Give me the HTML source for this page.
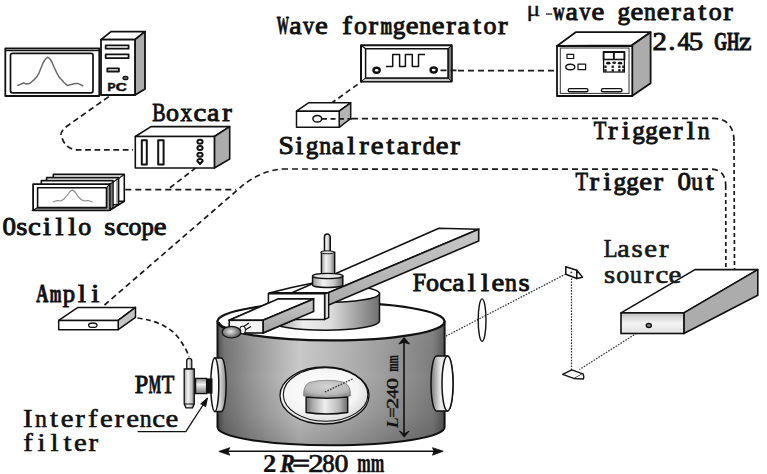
<!DOCTYPE html>
<html><head><meta charset="utf-8"><style>
html,body{margin:0;padding:0;background:#fff;width:767px;height:474px;overflow:hidden}
svg{display:block}
.s{fill:none;stroke:#111;stroke-linejoin:round}
.w{fill:#fff;stroke:#111;stroke-linejoin:round}
.g{fill:#acacac;stroke:#111;stroke-linejoin:round}
.d{fill:none;stroke:#1a1a1a}
.b{fill:none;stroke:#333;stroke-width:1.25;stroke-dasharray:1.6 1.3}
</style></head><body>
<svg width="767" height="474" viewBox="0 0 767 474" stroke-width="1.6">
<defs>
<linearGradient id="body" x1="0" x2="1" y1="0" y2="0">
<stop offset="0" stop-color="#4a4a4a"/><stop offset="0.03" stop-color="#747474"/><stop offset="0.15" stop-color="#969696"/><stop offset="0.36" stop-color="#cacaca"/><stop offset="0.55" stop-color="#b6b6b6"/><stop offset="0.8" stop-color="#949494"/><stop offset="0.95" stop-color="#7e7e7e"/><stop offset="1" stop-color="#555"/>
</linearGradient>
<linearGradient id="cyl" x1="0" x2="1" y1="0" y2="0">
<stop offset="0" stop-color="#8a8a8a"/><stop offset="0.3" stop-color="#eeeeee"/><stop offset="0.55" stop-color="#dddddd"/><stop offset="1" stop-color="#707070"/>
</linearGradient>
<linearGradient id="cyl2" x1="0" x2="1" y1="0" y2="0">
<stop offset="0" stop-color="#9a9a9a"/><stop offset="0.35" stop-color="#f4f4f4"/><stop offset="0.7" stop-color="#c8c8c8"/><stop offset="1" stop-color="#6a6a6a"/>
</linearGradient>
<linearGradient id="barside" x1="0" x2="0" y1="0" y2="1">
<stop offset="0" stop-color="#c8c8c8"/><stop offset="1" stop-color="#a0a0a0"/>
</linearGradient>
<linearGradient id="laserfront" x1="0" x2="0" y1="0" y2="1">
<stop offset="0" stop-color="#c0c0c0"/><stop offset="0.5" stop-color="#f4f4f4"/><stop offset="1" stop-color="#e0e0e0"/>
</linearGradient>
<radialGradient id="ball" cx="0.45" cy="0.45" r="0.6">
<stop offset="0" stop-color="#e8e8e8"/><stop offset="0.5" stop-color="#999"/><stop offset="1" stop-color="#444"/>
</radialGradient>
<linearGradient id="vcyl" x1="0" x2="0" y1="0" y2="1">
<stop offset="0" stop-color="#888"/><stop offset="0.4" stop-color="#f2f2f2"/><stop offset="1" stop-color="#777"/>
</linearGradient>
<linearGradient id="puckband" x1="0" x2="1" y1="0" y2="0">
<stop offset="0" stop-color="#6a6a6a"/><stop offset="0.15" stop-color="#a8a8a8"/><stop offset="0.45" stop-color="#eeeeee"/><stop offset="0.8" stop-color="#b8b8b8"/><stop offset="1" stop-color="#6a6a6a"/>
</linearGradient>
<radialGradient id="puckcap" cx="0.5" cy="0.35" r="0.65">
<stop offset="0" stop-color="#d4d4d4"/><stop offset="0.7" stop-color="#b8b8b8"/><stop offset="1" stop-color="#909090"/>
</radialGradient>
<radialGradient id="win" cx="0.45" cy="0.4" r="0.6">
<stop offset="0" stop-color="#ffffff"/><stop offset="0.7" stop-color="#f4f4f4"/><stop offset="1" stop-color="#d8d8d8"/>
</radialGradient>
<linearGradient id="bodyv" x1="0" x2="0" y1="0" y2="1">
<stop offset="0" stop-color="#fff" stop-opacity="0.06"/><stop offset="0.45" stop-color="#000" stop-opacity="0"/><stop offset="0.75" stop-color="#000" stop-opacity="0.08"/><stop offset="1" stop-color="#000" stop-opacity="0.22"/>
</linearGradient>
<linearGradient id="flangeL" x1="0" x2="1" y1="0" y2="0">
<stop offset="0" stop-color="#f0f0f0"/><stop offset="0.5" stop-color="#d0d0d0"/><stop offset="1" stop-color="#888"/>
</linearGradient>
<linearGradient id="flangeR" x1="0" x2="1" y1="0" y2="0">
<stop offset="0" stop-color="#777"/><stop offset="0.45" stop-color="#eeeeee"/><stop offset="1" stop-color="#bbbbbb"/>
</linearGradient>
<clipPath id="cR"><rect x="312" y="250" width="100" height="100"/></clipPath>
</defs>

<!-- ===== dashed connection lines ===== -->
<g class="d" stroke-width="1.7" stroke-dasharray="5.5 3.6">
<path d="M108.8,96.6 L69,124.7 Q58,132 62,138 Q66,149 76,149.8 L133,149.8" stroke-dasharray="5.8 3.6"/>
<path d="M196,167.7 L167.6,189.6" stroke-dasharray="5.5 3.6"/>
<path d="M125.3,189.6 L236,189.6" stroke-dasharray="6 4"/>
<path d="M104.5,305 L238,189.5 Q258,171 282,169" stroke-dasharray="5.6 3.8"/>
<path d="M282,169 L712,169.2 Q725.7,170 725.7,186" stroke-dasharray="6 4"/>
<path d="M725.7,186 L725.9,269" stroke-dasharray="4 3"/>
<path d="M352,118.6 L714,118.4 Q734,119 734,142" stroke-dasharray="6 4"/>
<path d="M734,142 L734.5,269" stroke-dasharray="4 3"/>
<path d="M331,103.5 L364,79.8" stroke-dasharray="5.5 3.6"/>
<path d="M458,70.6 L557,70.6" stroke-dasharray="6 4"/>
<path d="M137.4,318 Q168,322 180,340 Q187,350 189,357" stroke-dasharray="5 3.5"/>
</g>

<!-- ===== PC ===== -->
<g>
<rect x="5.3" y="48.5" width="94" height="47.5" class="w" stroke-width="1.8"/>
<path d="M6,50.6 L99,50.6" class="s" stroke-width="1.2"/>
<rect x="10.5" y="53.3" width="82.5" height="39.5" rx="2" class="w" stroke-width="1.7"/>
<path d="M17.2,85.6 L20,84.5 L23.5,83 L26.5,84 L29.4,83.6 L32,81.5 L34.2,79.7 L37,76.5 L39.1,72.8 L41,68 L43,63 L45.5,59 L48,57.2 L50,59 L51.9,62 L54,67 L56.8,72.8 L59,77 L61.6,79.7 L64,82.5 L67.5,85.6 L70,84.8 L72.4,84.2 L75,83.6 L78.3,83.6 L81,84.8 L83.2,86" fill="none" stroke="#6a6a6a" stroke-width="1.5" stroke-linejoin="round"/>
<polygon points="101,39.6 111,31.6 145,31.6 135,39.6" class="w" stroke-width="1.8"/>
<polygon points="135,39.6 145,31.6 145,89 135,95" class="g" stroke-width="1.8"/>
<rect x="101" y="39.6" width="34" height="55.4" class="w" stroke-width="1.8"/>
<rect x="105.7" y="45.3" width="22.9" height="3.4" class="w" stroke-width="1.8"/>
<rect x="105.7" y="54.3" width="22.9" height="3.8" class="w" stroke-width="1.8"/>
<rect x="107.3" y="68.3" width="11.6" height="3.2" class="w" stroke-width="1.8"/>
<ellipse cx="125.5" cy="78" rx="2.5" ry="1.7" fill="#666" stroke="#111" stroke-width="1.2"/>
</g>

<!-- ===== Boxcar ===== -->
<g>
<polygon points="135.3,136.5 151,126.6 229.7,126.6 214.4,136.5" class="w"/>
<polygon points="214.4,136.5 229.7,126.6 229.7,159 214.4,168" class="g"/>
<rect x="135.3" y="136.5" width="79.1" height="31.5" class="w"/>
<rect x="141.8" y="140.2" width="5" height="24.2" class="w" stroke-width="2"/>
<rect x="158.2" y="140.2" width="5.4" height="24.2" class="w" stroke-width="2"/>
<ellipse cx="200" cy="141.7" rx="2.6" ry="2" class="w" stroke-width="2"/>
<ellipse cx="200" cy="148" rx="2.6" ry="2" class="w" stroke-width="2"/>
<ellipse cx="200" cy="154.8" rx="2.6" ry="2" class="w" stroke-width="2"/>
<path d="M197.3,161 Q197.5,159 200,159 Q202.5,159 202.7,161 L200,164 Z" class="w" stroke-width="2"/>
</g>

<!-- ===== Oscilloscope ===== -->
<g>
<rect x="53.3" y="174.4" width="71" height="26.8" class="w" stroke-width="1.6"/>
<rect x="46.6" y="177.6" width="72" height="27.2" class="w" stroke-width="1.6"/>
<path d="M117,180 L117,204" stroke="#777" stroke-width="1.2"/>
<rect x="41.3" y="180.6" width="71.7" height="27.7" class="w" stroke-width="1.6"/>
<path d="M111.5,183 L111.5,207.5" stroke="#777" stroke-width="1.2"/>
<path d="M109.8,184.2 L124.3,174.4" class="s" stroke-width="1.2"/>
<path d="M109.8,210.3 L124.3,201.2" class="s"/>
<rect x="33.1" y="184.2" width="76.7" height="26.1" class="w" stroke-width="1.8"/>
<polygon points="106.5,187.7 109.8,184.2 109.8,210.3 33.1,210.3 37.6,207.6 106.5,207.6" fill="#9a9a9a" stroke="#111" stroke-width="1.2"/>
<rect x="37.6" y="187.7" width="68.9" height="19.9" class="w" stroke-width="1.6"/>
<path d="M53,202 L57,200.5 L61,201 L64,199 L67,195.5 L70,191.5 L72.4,190 L75,192 L78,196.5 L81,199.5 L84,201 L88,200.5 L92.8,202" fill="none" stroke="#888" stroke-width="1.1"/>
</g>

<!-- ===== Wave form generator ===== -->
<g>
<rect x="361" y="45.2" width="90.7" height="36.4" class="w" stroke-width="2"/>
<polygon points="448,48.8 451.7,45.2 451.7,81.6 361,81.6 365.6,78 448,78" fill="#c8c8c8" stroke="#111" stroke-width="1"/>
<polygon points="448,48.8 451.7,45.2 451.7,81.6 448,78" fill="#777" stroke="#111" stroke-width="1"/>
<rect x="365.6" y="48.8" width="82.4" height="29.2" class="w" stroke-width="1.5"/>
<path d="M361,45.2 L365.6,48.8" class="s" stroke-width="1.2"/>
<path d="M385.9,66.6 L392.7,66.6 L392.7,54.5 L399.6,54.5 L399.6,66.6 L405.4,66.6 L405.4,54.5 L412.3,54.5 L412.3,66.6 L418.5,66.6 L418.5,54.5 L425,54.5" class="s" stroke-width="1.5"/>
<ellipse cx="376.6" cy="70.2" rx="3.1" ry="2.5" class="w" stroke-width="2.4"/>
<ellipse cx="433.7" cy="70" rx="3.1" ry="2.5" class="w" stroke-width="2.4"/>
<path d="M440.5,70.4 L458,70.4" class="d" stroke-width="1.7" stroke-dasharray="6 4"/>
</g>

<!-- ===== Signal retarder ===== -->
<g>
<polygon points="296.5,111.2 308.5,102.8 350.7,102.8 339.2,111.2" class="w" stroke-width="1.5"/>
<polygon points="339.2,111.2 350.7,102.8 350.7,118.5 339.2,127.3" fill="#b4b4b4" stroke="#111" stroke-width="1.5" stroke-linejoin="round"/>
<rect x="296.5" y="111.2" width="42.7" height="16.1" class="w" stroke-width="1.5"/>
<ellipse cx="317.3" cy="118.8" rx="4.4" ry="3.3" class="w" stroke-width="1.5"/>
<path d="M322,118.8 L352,118.8" class="d" stroke-width="1.8" stroke-dasharray="5 3.5"/>
</g>
<!-- ===== micro-wave generator ===== -->
<g>
<polygon points="557,46 576,32.1 650.6,32.2 632,45.3" class="w" stroke-width="1.8"/>
<polygon points="632,45.3 650.6,32.2 650.6,83.3 632,96" class="g" stroke-width="1.8"/>
<rect x="557" y="46" width="75.3" height="50" class="w" stroke-width="1.8"/>
<rect x="560.3" y="48" width="68.7" height="45.4" fill="none" stroke="#333" stroke-width="1"/>
<rect x="567" y="54.3" width="6.7" height="4.2" class="w" stroke-width="1.2"/>
<ellipse cx="570.3" cy="67" rx="4.5" ry="2.8" class="w" stroke-width="1.4"/>
<rect x="578" y="64.2" width="7.6" height="5.4" class="w" stroke-width="1.2"/>
<rect x="603.6" y="52" width="10.3" height="7.6" class="w" stroke-width="1.9"/>
<rect x="613.9" y="52" width="10.5" height="7.6" class="w" stroke-width="1.9"/>
<rect x="603.6" y="59.6" width="20.8" height="12.4" fill="#fff" stroke="#111" stroke-width="1.3"/>
<ellipse cx="608.3" cy="63.2" rx="2.2" ry="1.4" fill="#111"/><ellipse cx="614.2" cy="62.8" rx="2" ry="1.2" fill="#222"/><ellipse cx="620" cy="63.2" rx="2.2" ry="1.4" fill="#111"/>
<rect x="604.3" y="65.6" width="2.3" height="2.3" fill="#111"/><rect x="604.3" y="69.2" width="2.3" height="2.3" fill="#111"/><rect x="611.6" y="65.6" width="2.3" height="2.3" fill="#111"/><rect x="611.6" y="69.2" width="2.3" height="2.3" fill="#111"/><rect x="618.2" y="65.6" width="2.3" height="2.3" fill="#111"/><rect x="618.2" y="69.2" width="2.3" height="2.3" fill="#111"/><rect x="622.2" y="65.6" width="2.3" height="2.3" fill="#111"/><rect x="622.2" y="69.2" width="2.3" height="2.3" fill="#111"/>
<rect x="568.2" y="88.6" width="19.8" height="3.2" rx="1.6" class="w" stroke-width="1.4"/>
<rect x="601.4" y="88.6" width="20.6" height="3.2" rx="1.6" class="w" stroke-width="1.4"/>
</g>

<!-- ===== Ampli ===== -->
<g>
<polygon points="58.7,320.4 77.9,307.4 135.5,307.4 118.2,320.4" class="w" stroke-width="1.5"/>
<polygon points="118.2,320.4 135.5,307.4 135.5,317.3 118.2,329.7" fill="#c4c4c4" stroke="#111" stroke-width="1.5" stroke-linejoin="round"/>
<rect x="58.7" y="320.4" width="59.5" height="9.3" class="w" stroke-width="1.5"/>
<ellipse cx="92.8" cy="325.2" rx="4.2" ry="2.2" class="w" stroke-width="1.3"/>
</g>
<!-- ===== Laser ===== -->
<g>
<path class="b" d="M648.8,325.5 L579.5,369.5 M571.5,370 L571.5,278.5 M565.8,274 L444.2,337"/>
<polygon points="621,312.9 695,269.6 757.8,269.6 683.9,312.9" class="w" stroke-width="1.6"/>
<polygon points="683.9,312.9 757.8,269.6 757.8,295.2 683.9,333.5" class="g" stroke-width="1.6"/>
<rect x="621" y="312.9" width="62.9" height="20.6" fill="url(#laserfront)" stroke="#111" stroke-width="1.6"/>
<ellipse cx="648.8" cy="325.5" rx="2.6" ry="2" fill="#888" stroke="#111" stroke-width="1.3"/>
<!-- mirrors -->
<polygon points="565.8,266.7 576.8,270.3 576.8,278.5 565.8,274.2" class="w" stroke-width="1.5"/>
<polygon points="576.8,270.3 582.6,277.3 576.8,278.5" class="w" stroke-width="1.4"/>
<circle cx="571.3" cy="272.4" r="0.9" fill="#333"/>
<polygon points="562.6,374.3 571.8,369.8 582.9,373.8 574.4,378.6" class="w" stroke-width="1.4"/>
<path d="M582.9,373.8 Q584.5,377 583.2,379 L574.4,378.6" class="w" stroke-width="1.4"/>
<!-- lens -->
<ellipse cx="482.1" cy="320.1" rx="3.9" ry="21.2" fill="none" stroke="#111" stroke-width="1.4"/>
</g>

<!-- ===== Chamber ===== -->
<g id="chamber">
<!-- left port flange (behind? drawn before body edge overlap) -->
<path d="M217.5,321.4 L217.5,427.3 A113.5,18 0 0 0 444.6,427.3 L444.6,321.4 Z" fill="url(#body)" stroke="#111" stroke-width="2"/>
<path d="M217.5,321.4 L217.5,427.3 A113.5,18 0 0 0 444.6,427.3 L444.6,321.4 Z" fill="url(#bodyv)"/>
<ellipse cx="331" cy="321.4" rx="113.5" ry="19" fill="#fff" stroke="#111" stroke-width="2.2"/>
<path d="M219,322 Q221,327 229,328" fill="none" stroke="#111" stroke-width="1.4"/>
<!-- raised disk -->
<path d="M270.5,293.5 L270.5,321 A54.5,9.2 0 0 0 379.5,321 L379.5,293.5 Z" fill="url(#cyl)" stroke="#111" stroke-width="1.5"/>
<ellipse cx="325" cy="293.5" rx="54.5" ry="9" fill="#fff" stroke="#111" stroke-width="1.5" clip-path="url(#cR)"/>
<path d="M268.3,293.3 Q291,287.2 313,283" fill="none" stroke="#111" stroke-width="1.4"/>
<!-- bar full -->
<polygon points="229.2,320.3 438.9,228.3 478.7,229.3 263,320.3" class="w" stroke-width="1.6"/>
<polygon points="263,320.3 478.7,229.3 478.7,241 263,333" fill="url(#barside)" stroke="#111" stroke-width="1.6"/>
<!-- rod + collar -->
<path d="M321.4,252.3 L321.4,273.7 L334.7,273.7 L334.7,252.3 Z" fill="url(#cyl2)" stroke="#111" stroke-width="1.4"/>
<path d="M324.4,252.3 L324.4,237 A2.95,2.95 0 0 1 330.3,237 L330.3,252.3 Z" fill="url(#cyl2)" stroke="#111" stroke-width="1.4"/>
<ellipse cx="327.35" cy="252.3" rx="6.65" ry="1.5" fill="#ddd" stroke="#111" stroke-width="1"/>
<path d="M312.6,276 L312.6,285 A15.1,2.5 0 0 0 342.8,285 L342.8,276 Z" fill="url(#cyl2)" stroke="#111" stroke-width="1.5"/>
<ellipse cx="327.7" cy="276" rx="15.1" ry="2.6" fill="#e6e6e6" stroke="#111" stroke-width="1.3"/>
<!-- carriage -->
<polygon points="268.4,293.8 270.5,292.6 328.7,292.6 324.6,293.8" class="w" stroke-width="1.3"/>
<polygon points="324.6,293.8 328.7,292.6 328.7,317.6 324.6,319.4" fill="#dcdcdc" stroke="#111" stroke-width="1.4"/>
<rect x="268.4" y="293.8" width="56.2" height="25.6" class="w" stroke-width="1.5"/>
<!-- front bar segment -->
<polygon points="229.2,320.3 277.9,298.9 313.6,298.9 263,320.3" class="w" stroke-width="1.6"/>
<polygon points="263,320.3 313.6,298.9 313.6,311.4 263,333" fill="url(#barside)" stroke="#111" stroke-width="1.6"/>
<rect x="229.2" y="320.3" width="33.8" height="12.7" fill="#f4f4f4" stroke="#111" stroke-width="1.6"/>
<!-- ball -->
<path d="M243,327 L249,323 M245,330 L251,326.5" stroke="#111" stroke-width="1.2"/>
<ellipse cx="242.6" cy="330" rx="2.8" ry="3.8" fill="#fff" stroke="#111" stroke-width="1.1"/>
<ellipse cx="231.5" cy="332.2" rx="9.3" ry="5.8" fill="url(#ball)" stroke="#111" stroke-width="1.2"/>
<!-- window -->
<ellipse cx="324.5" cy="395.5" rx="44.5" ry="28.5" fill="url(#win)" stroke="#111" stroke-width="1.3"/>
<ellipse cx="325.6" cy="394.4" rx="42.3" ry="26.8" fill="none" stroke="#111" stroke-width="1.1"/>
<!-- puck -->
<path d="M306.1,397 L306.1,412.5 Q326.9,415.5 347.7,412.5 L347.7,397 Z" fill="url(#puckband)" stroke="#111" stroke-width="1.4"/>
<path d="M303.6,396 Q303,386 309,382.5 Q318,380 327,380.3 Q337,380 344.5,382.5 Q351,386 350.6,396 Q327,400 303.6,396 Z" fill="url(#puckcap)" stroke="#555" stroke-width="0.5"/>
<path d="M306.1,397.2 Q326.9,399.5 347.7,397.2" fill="none" stroke="#111" stroke-width="1.3"/>
<path class="b" d="M352.5,379 L324.5,392.2"/>
<!-- dims -->
<path d="M404,341 L404,434" stroke="#111" stroke-width="1.6"/>
<path d="M404.1,337.4 L409.6,344 L404.1,342.4 L398.8,344 Z" fill="#111" stroke="#111" stroke-width="0.8" stroke-linejoin="round"/>
<path d="M404.3,437.2 L409.2,431 L404.3,433.8 L399.3,431 Z" fill="#111" stroke="#111" stroke-width="0.8" stroke-linejoin="round"/>
<path d="M222,451.3 L440,451.3" stroke="#111" stroke-width="1.6"/>
<path d="M218.8,451.4 L229.8,447.7 L228,451.4 L229.8,455.2 Z" fill="#111" stroke="#111" stroke-width="0.8" stroke-linejoin="round"/>
<path d="M443.2,451.2 L432.5,447.7 L434,451.2 L432.5,455.2 Z" fill="#111" stroke="#111" stroke-width="0.8" stroke-linejoin="round"/>
<!-- right port -->
<path d="M436.5,356 L447.5,356 A5.5,27.5 0 0 1 447.5,411 L436.5,411 A5.5,27.5 0 0 1 436.5,356 Z" fill="url(#flangeR)" stroke="#111" stroke-width="1.5"/>
<ellipse cx="447.5" cy="383.5" rx="5.5" ry="27.5" fill="#fff" stroke="#111" stroke-width="1.5"/>
<!-- left port -->
<path d="M214.8,358 L221.3,358 A4.8,26.8 0 0 1 221.3,411.6 L214.8,411.6 Z" fill="url(#flangeL)" stroke="#111" stroke-width="1.5"/>
<ellipse cx="214.8" cy="384.8" rx="4" ry="26.8" fill="#fafafa" stroke="#111" stroke-width="1.5"/>
<!-- connector + PMT -->
<rect x="195.6" y="378.4" width="12" height="15.2" fill="url(#cyl2)" stroke="#111" stroke-width="1.3" transform="rotate(90 201.6 386)" opacity="0"/>
<rect x="195.6" y="378.4" width="11" height="15.2" fill="url(#vcyl)" stroke="#111" stroke-width="1.3"/>
<rect x="206" y="378.4" width="6.5" height="15.2" fill="#111"/>
<path d="M186.7,369 L186.7,361 A2.55,2.55 0 0 1 191.8,361 L191.8,369 Z" fill="url(#cyl2)" stroke="#111" stroke-width="1.2"/>
<path d="M184.2,369 L194.3,369 L194.3,404 L192.5,407.8 L186,407.8 L184.2,404 Z" fill="url(#cyl2)" stroke="#111" stroke-width="1.3"/>
<path d="M184.2,404 L194.3,404" stroke="#111" stroke-width="1"/>
<!-- arrow from filter label -->
<path d="M137.6,431.7 L185.8,431.7 L206,400.5" fill="none" stroke="#111" stroke-width="1.3"/>
<path d="M200.5,404 L207.5,398 L205.5,407" fill="#111" stroke="#111" stroke-width="1"/>
</g>

<text transform="translate(282.70,33.50) scale(0.486,1.000)" x="-12.48" y="0" font-family="Liberation Serif" font-weight="bold" font-size="25" fill="#111" stroke="#111" stroke-width="0.9">W</text>
<text transform="translate(295.65,33.50) scale(1.114,1.000)" x="-5.82" y="0" font-family="Liberation Serif" font-weight="normal" font-size="25" fill="#111" stroke="#111" stroke-width="0.9">a</text>
<text transform="translate(308.61,33.50) scale(0.880,1.000)" x="-6.25" y="0" font-family="Liberation Serif" font-weight="normal" font-size="25" fill="#111" stroke="#111" stroke-width="0.9">v</text>
<text transform="translate(321.56,33.50) scale(1.150,1.000)" x="-5.60" y="0" font-family="Liberation Serif" font-weight="normal" font-size="25" fill="#111" stroke="#111" stroke-width="0.9">e</text>
<text transform="translate(347.47,33.50) scale(1.150,1.000)" x="-4.55" y="0" font-family="Liberation Serif" font-weight="normal" font-size="25" fill="#111" stroke="#111" stroke-width="0.9">f</text>
<text transform="translate(360.43,33.50) scale(1.038,1.000)" x="-6.25" y="0" font-family="Liberation Serif" font-weight="normal" font-size="25" fill="#111" stroke="#111" stroke-width="0.9">o</text>
<text transform="translate(373.38,33.50) scale(1.150,1.000)" x="-4.30" y="0" font-family="Liberation Serif" font-weight="normal" font-size="25" fill="#111" stroke="#111" stroke-width="0.9">r</text>
<text transform="translate(386.34,33.50) scale(0.558,1.000)" x="-10.53" y="0" font-family="Liberation Serif" font-weight="bold" font-size="25" fill="#111" stroke="#111" stroke-width="0.9">m</text>
<text transform="translate(399.29,33.50) scale(1.005,1.000)" x="-6.55" y="0" font-family="Liberation Serif" font-weight="normal" font-size="25" fill="#111" stroke="#111" stroke-width="0.9">g</text>
<text transform="translate(412.25,33.50) scale(1.150,1.000)" x="-5.60" y="0" font-family="Liberation Serif" font-weight="normal" font-size="25" fill="#111" stroke="#111" stroke-width="0.9">e</text>
<text transform="translate(425.20,33.50) scale(0.953,1.000)" x="-6.35" y="0" font-family="Liberation Serif" font-weight="normal" font-size="25" fill="#111" stroke="#111" stroke-width="0.9">n</text>
<text transform="translate(438.15,33.50) scale(1.150,1.000)" x="-5.60" y="0" font-family="Liberation Serif" font-weight="normal" font-size="25" fill="#111" stroke="#111" stroke-width="0.9">e</text>
<text transform="translate(451.11,33.50) scale(1.150,1.000)" x="-4.30" y="0" font-family="Liberation Serif" font-weight="normal" font-size="25" fill="#111" stroke="#111" stroke-width="0.9">r</text>
<text transform="translate(464.06,33.50) scale(1.114,1.000)" x="-5.82" y="0" font-family="Liberation Serif" font-weight="normal" font-size="25" fill="#111" stroke="#111" stroke-width="0.9">a</text>
<text transform="translate(477.02,33.50) scale(1.150,1.000)" x="-3.52" y="0" font-family="Liberation Serif" font-weight="normal" font-size="25" fill="#111" stroke="#111" stroke-width="0.9">t</text>
<text transform="translate(489.97,33.50) scale(1.038,1.000)" x="-6.25" y="0" font-family="Liberation Serif" font-weight="normal" font-size="25" fill="#111" stroke="#111" stroke-width="0.9">o</text>
<text transform="translate(502.93,33.50) scale(1.150,1.000)" x="-4.30" y="0" font-family="Liberation Serif" font-weight="normal" font-size="25" fill="#111" stroke="#111" stroke-width="0.9">r</text>
<text transform="translate(533.85,15.80) scale(1.242,1.000)" x="-5.99" y="0" font-family="Liberation Serif" font-weight="normal" font-size="20.8" fill="#111" stroke="#111" stroke-width="0.3">μ</text>
<rect x="545.9" y="13.2" width="6.3" height="1.7" fill="#555"/>
<text transform="translate(558.90,20.00) scale(0.616,1.000)" x="-9.00" y="0" font-family="Liberation Serif" font-weight="bold" font-size="25" fill="#111" stroke="#111" stroke-width="0.9">w</text>
<text transform="translate(571.93,20.00) scale(1.114,1.000)" x="-5.82" y="0" font-family="Liberation Serif" font-weight="normal" font-size="25" fill="#111" stroke="#111" stroke-width="0.9">a</text>
<text transform="translate(584.95,20.00) scale(0.880,1.000)" x="-6.25" y="0" font-family="Liberation Serif" font-weight="normal" font-size="25" fill="#111" stroke="#111" stroke-width="0.9">v</text>
<text transform="translate(597.98,20.00) scale(1.150,1.000)" x="-5.60" y="0" font-family="Liberation Serif" font-weight="normal" font-size="25" fill="#111" stroke="#111" stroke-width="0.9">e</text>
<text transform="translate(624.03,20.00) scale(1.005,1.000)" x="-6.55" y="0" font-family="Liberation Serif" font-weight="normal" font-size="25" fill="#111" stroke="#111" stroke-width="0.9">g</text>
<text transform="translate(637.05,20.00) scale(1.150,1.000)" x="-5.60" y="0" font-family="Liberation Serif" font-weight="normal" font-size="25" fill="#111" stroke="#111" stroke-width="0.9">e</text>
<text transform="translate(650.08,20.00) scale(0.953,1.000)" x="-6.35" y="0" font-family="Liberation Serif" font-weight="normal" font-size="25" fill="#111" stroke="#111" stroke-width="0.9">n</text>
<text transform="translate(663.10,20.00) scale(1.150,1.000)" x="-5.60" y="0" font-family="Liberation Serif" font-weight="normal" font-size="25" fill="#111" stroke="#111" stroke-width="0.9">e</text>
<text transform="translate(676.13,20.00) scale(1.150,1.000)" x="-4.30" y="0" font-family="Liberation Serif" font-weight="normal" font-size="25" fill="#111" stroke="#111" stroke-width="0.9">r</text>
<text transform="translate(689.15,20.00) scale(1.114,1.000)" x="-5.82" y="0" font-family="Liberation Serif" font-weight="normal" font-size="25" fill="#111" stroke="#111" stroke-width="0.9">a</text>
<text transform="translate(702.18,20.00) scale(1.150,1.000)" x="-3.52" y="0" font-family="Liberation Serif" font-weight="normal" font-size="25" fill="#111" stroke="#111" stroke-width="0.9">t</text>
<text transform="translate(715.20,20.00) scale(1.038,1.000)" x="-6.25" y="0" font-family="Liberation Serif" font-weight="normal" font-size="25" fill="#111" stroke="#111" stroke-width="0.9">o</text>
<text transform="translate(728.23,20.00) scale(1.150,1.000)" x="-4.30" y="0" font-family="Liberation Serif" font-weight="normal" font-size="25" fill="#111" stroke="#111" stroke-width="0.9">r</text>
<text transform="translate(659.46,49.70) scale(1.150,1.000)" x="-6.11" y="0" font-family="Liberation Serif" font-weight="normal" font-size="25" fill="#111" stroke="#111" stroke-width="0.9">2</text>
<text transform="translate(671.73,49.70) scale(1.150,1.000)" x="-3.12" y="0" font-family="Liberation Serif" font-weight="normal" font-size="25" fill="#111" stroke="#111" stroke-width="0.9">.</text>
<text transform="translate(683.99,49.70) scale(1.015,1.000)" x="-6.30" y="0" font-family="Liberation Serif" font-weight="normal" font-size="25" fill="#111" stroke="#111" stroke-width="0.9">4</text>
<text transform="translate(696.25,49.70) scale(1.150,1.000)" x="-6.49" y="0" font-family="Liberation Serif" font-weight="normal" font-size="25" fill="#111" stroke="#111" stroke-width="0.9">5</text>
<text transform="translate(720.78,49.70) scale(0.673,1.000)" x="-9.99" y="0" font-family="Liberation Serif" font-weight="bold" font-size="25" fill="#111" stroke="#111" stroke-width="0.9">G</text>
<text transform="translate(733.04,49.70) scale(0.634,1.000)" x="-9.73" y="0" font-family="Liberation Serif" font-weight="bold" font-size="25" fill="#111" stroke="#111" stroke-width="0.9">H</text>
<text transform="translate(745.30,49.70) scale(1.131,1.000)" x="-5.54" y="0" font-family="Liberation Serif" font-weight="normal" font-size="25" fill="#111" stroke="#111" stroke-width="0.9">z</text>
<text transform="translate(158.80,120.90) scale(0.801,1.000)" x="-8.09" y="0" font-family="Liberation Serif" font-weight="normal" font-size="25" fill="#111" stroke="#111" stroke-width="0.9">B</text>
<text transform="translate(172.49,120.90) scale(1.038,1.000)" x="-6.25" y="0" font-family="Liberation Serif" font-weight="normal" font-size="25" fill="#111" stroke="#111" stroke-width="0.9">o</text>
<text transform="translate(186.17,120.90) scale(0.919,1.000)" x="-6.21" y="0" font-family="Liberation Serif" font-weight="normal" font-size="25" fill="#111" stroke="#111" stroke-width="0.9">x</text>
<text transform="translate(199.86,120.90) scale(1.150,1.000)" x="-5.64" y="0" font-family="Liberation Serif" font-weight="normal" font-size="25" fill="#111" stroke="#111" stroke-width="0.9">c</text>
<text transform="translate(213.54,120.90) scale(1.114,1.000)" x="-5.82" y="0" font-family="Liberation Serif" font-weight="normal" font-size="25" fill="#111" stroke="#111" stroke-width="0.9">a</text>
<text transform="translate(227.23,120.90) scale(1.150,1.000)" x="-4.30" y="0" font-family="Liberation Serif" font-weight="normal" font-size="25" fill="#111" stroke="#111" stroke-width="0.9">r</text>
<text transform="translate(286.30,154.00) scale(1.105,1.000)" x="-7.01" y="0" font-family="Liberation Serif" font-weight="normal" font-size="25" fill="#111" stroke="#111" stroke-width="0.9">S</text>
<text transform="translate(299.29,154.00) scale(1.150,1.000)" x="-3.50" y="0" font-family="Liberation Serif" font-weight="normal" font-size="25" fill="#111" stroke="#111" stroke-width="0.9">i</text>
<text transform="translate(312.27,154.00) scale(1.005,1.000)" x="-6.55" y="0" font-family="Liberation Serif" font-weight="normal" font-size="25" fill="#111" stroke="#111" stroke-width="0.9">g</text>
<text transform="translate(325.26,154.00) scale(0.953,1.000)" x="-6.35" y="0" font-family="Liberation Serif" font-weight="normal" font-size="25" fill="#111" stroke="#111" stroke-width="0.9">n</text>
<text transform="translate(338.25,154.00) scale(1.114,1.000)" x="-5.82" y="0" font-family="Liberation Serif" font-weight="normal" font-size="25" fill="#111" stroke="#111" stroke-width="0.9">a</text>
<text transform="translate(351.23,154.00) scale(1.150,1.000)" x="-3.47" y="0" font-family="Liberation Serif" font-weight="normal" font-size="25" fill="#111" stroke="#111" stroke-width="0.9">l</text>
<text transform="translate(364.22,154.00) scale(1.150,1.000)" x="-4.30" y="0" font-family="Liberation Serif" font-weight="normal" font-size="25" fill="#111" stroke="#111" stroke-width="0.9">r</text>
<text transform="translate(377.21,154.00) scale(1.150,1.000)" x="-5.60" y="0" font-family="Liberation Serif" font-weight="normal" font-size="25" fill="#111" stroke="#111" stroke-width="0.9">e</text>
<text transform="translate(390.19,154.00) scale(1.150,1.000)" x="-3.52" y="0" font-family="Liberation Serif" font-weight="normal" font-size="25" fill="#111" stroke="#111" stroke-width="0.9">t</text>
<text transform="translate(403.18,154.00) scale(1.114,1.000)" x="-5.82" y="0" font-family="Liberation Serif" font-weight="normal" font-size="25" fill="#111" stroke="#111" stroke-width="0.9">a</text>
<text transform="translate(416.17,154.00) scale(1.150,1.000)" x="-4.30" y="0" font-family="Liberation Serif" font-weight="normal" font-size="25" fill="#111" stroke="#111" stroke-width="0.9">r</text>
<text transform="translate(429.15,154.00) scale(0.974,1.000)" x="-6.55" y="0" font-family="Liberation Serif" font-weight="normal" font-size="25" fill="#111" stroke="#111" stroke-width="0.9">d</text>
<text transform="translate(442.14,154.00) scale(1.150,1.000)" x="-5.60" y="0" font-family="Liberation Serif" font-weight="normal" font-size="25" fill="#111" stroke="#111" stroke-width="0.9">e</text>
<text transform="translate(455.13,154.00) scale(1.150,1.000)" x="-4.30" y="0" font-family="Liberation Serif" font-weight="normal" font-size="25" fill="#111" stroke="#111" stroke-width="0.9">r</text>
<text transform="translate(599.90,139.20) scale(0.819,1.000)" x="-7.65" y="0" font-family="Liberation Serif" font-weight="normal" font-size="25" fill="#111" stroke="#111" stroke-width="0.9">T</text>
<text transform="translate(612.89,139.20) scale(1.150,1.000)" x="-4.30" y="0" font-family="Liberation Serif" font-weight="normal" font-size="25" fill="#111" stroke="#111" stroke-width="0.9">r</text>
<text transform="translate(625.88,139.20) scale(1.150,1.000)" x="-3.50" y="0" font-family="Liberation Serif" font-weight="normal" font-size="25" fill="#111" stroke="#111" stroke-width="0.9">i</text>
<text transform="translate(638.86,139.20) scale(1.005,1.000)" x="-6.55" y="0" font-family="Liberation Serif" font-weight="normal" font-size="25" fill="#111" stroke="#111" stroke-width="0.9">g</text>
<text transform="translate(651.85,139.20) scale(1.005,1.000)" x="-6.55" y="0" font-family="Liberation Serif" font-weight="normal" font-size="25" fill="#111" stroke="#111" stroke-width="0.9">g</text>
<text transform="translate(664.84,139.20) scale(1.150,1.000)" x="-5.60" y="0" font-family="Liberation Serif" font-weight="normal" font-size="25" fill="#111" stroke="#111" stroke-width="0.9">e</text>
<text transform="translate(677.82,139.20) scale(1.150,1.000)" x="-4.30" y="0" font-family="Liberation Serif" font-weight="normal" font-size="25" fill="#111" stroke="#111" stroke-width="0.9">r</text>
<text transform="translate(690.81,139.20) scale(1.150,1.000)" x="-3.47" y="0" font-family="Liberation Serif" font-weight="normal" font-size="25" fill="#111" stroke="#111" stroke-width="0.9">l</text>
<text transform="translate(703.80,139.20) scale(0.953,1.000)" x="-6.35" y="0" font-family="Liberation Serif" font-weight="normal" font-size="25" fill="#111" stroke="#111" stroke-width="0.9">n</text>
<text transform="translate(581.70,190.30) scale(0.819,1.000)" x="-7.65" y="0" font-family="Liberation Serif" font-weight="normal" font-size="25" fill="#111" stroke="#111" stroke-width="0.9">T</text>
<text transform="translate(594.50,190.30) scale(1.150,1.000)" x="-4.30" y="0" font-family="Liberation Serif" font-weight="normal" font-size="25" fill="#111" stroke="#111" stroke-width="0.9">r</text>
<text transform="translate(607.31,190.30) scale(1.150,1.000)" x="-3.50" y="0" font-family="Liberation Serif" font-weight="normal" font-size="25" fill="#111" stroke="#111" stroke-width="0.9">i</text>
<text transform="translate(620.11,190.30) scale(1.005,1.000)" x="-6.55" y="0" font-family="Liberation Serif" font-weight="normal" font-size="25" fill="#111" stroke="#111" stroke-width="0.9">g</text>
<text transform="translate(632.91,190.30) scale(1.005,1.000)" x="-6.55" y="0" font-family="Liberation Serif" font-weight="normal" font-size="25" fill="#111" stroke="#111" stroke-width="0.9">g</text>
<text transform="translate(645.72,190.30) scale(1.150,1.000)" x="-5.60" y="0" font-family="Liberation Serif" font-weight="normal" font-size="25" fill="#111" stroke="#111" stroke-width="0.9">e</text>
<text transform="translate(658.52,190.30) scale(1.150,1.000)" x="-4.30" y="0" font-family="Liberation Serif" font-weight="normal" font-size="25" fill="#111" stroke="#111" stroke-width="0.9">r</text>
<text transform="translate(684.12,190.30) scale(0.694,1.000)" x="-9.72" y="0" font-family="Liberation Serif" font-weight="bold" font-size="25" fill="#111" stroke="#111" stroke-width="0.9">O</text>
<text transform="translate(696.93,190.30) scale(0.937,1.000)" x="-6.20" y="0" font-family="Liberation Serif" font-weight="normal" font-size="25" fill="#111" stroke="#111" stroke-width="0.9">u</text>
<text transform="translate(709.73,190.30) scale(1.150,1.000)" x="-3.52" y="0" font-family="Liberation Serif" font-weight="normal" font-size="25" fill="#111" stroke="#111" stroke-width="0.9">t</text>
<text transform="translate(9.30,235.10) scale(0.694,1.000)" x="-9.72" y="0" font-family="Liberation Serif" font-weight="bold" font-size="25" fill="#111" stroke="#111" stroke-width="0.9">O</text>
<text transform="translate(21.86,235.10) scale(1.150,1.000)" x="-4.93" y="0" font-family="Liberation Serif" font-weight="normal" font-size="25" fill="#111" stroke="#111" stroke-width="0.9">s</text>
<text transform="translate(34.43,235.10) scale(1.150,1.000)" x="-5.64" y="0" font-family="Liberation Serif" font-weight="normal" font-size="25" fill="#111" stroke="#111" stroke-width="0.9">c</text>
<text transform="translate(46.99,235.10) scale(1.150,1.000)" x="-3.50" y="0" font-family="Liberation Serif" font-weight="normal" font-size="25" fill="#111" stroke="#111" stroke-width="0.9">i</text>
<text transform="translate(59.56,235.10) scale(1.150,1.000)" x="-3.47" y="0" font-family="Liberation Serif" font-weight="normal" font-size="25" fill="#111" stroke="#111" stroke-width="0.9">l</text>
<text transform="translate(72.12,235.10) scale(1.150,1.000)" x="-3.47" y="0" font-family="Liberation Serif" font-weight="normal" font-size="25" fill="#111" stroke="#111" stroke-width="0.9">l</text>
<text transform="translate(84.69,235.10) scale(1.038,1.000)" x="-6.25" y="0" font-family="Liberation Serif" font-weight="normal" font-size="25" fill="#111" stroke="#111" stroke-width="0.9">o</text>
<text transform="translate(109.82,235.10) scale(1.150,1.000)" x="-4.93" y="0" font-family="Liberation Serif" font-weight="normal" font-size="25" fill="#111" stroke="#111" stroke-width="0.9">s</text>
<text transform="translate(122.38,235.10) scale(1.150,1.000)" x="-5.64" y="0" font-family="Liberation Serif" font-weight="normal" font-size="25" fill="#111" stroke="#111" stroke-width="0.9">c</text>
<text transform="translate(134.95,235.10) scale(1.038,1.000)" x="-6.25" y="0" font-family="Liberation Serif" font-weight="normal" font-size="25" fill="#111" stroke="#111" stroke-width="0.9">o</text>
<text transform="translate(147.51,235.10) scale(0.989,1.000)" x="-5.96" y="0" font-family="Liberation Serif" font-weight="normal" font-size="25" fill="#111" stroke="#111" stroke-width="0.9">p</text>
<text transform="translate(160.08,235.10) scale(1.150,1.000)" x="-5.60" y="0" font-family="Liberation Serif" font-weight="normal" font-size="25" fill="#111" stroke="#111" stroke-width="0.9">e</text>
<text transform="translate(42.30,302.40) scale(0.669,1.000)" x="-9.06" y="0" font-family="Liberation Serif" font-weight="bold" font-size="25" fill="#111" stroke="#111" stroke-width="0.9">A</text>
<text transform="translate(55.52,302.40) scale(0.558,1.000)" x="-10.53" y="0" font-family="Liberation Serif" font-weight="bold" font-size="25" fill="#111" stroke="#111" stroke-width="0.9">m</text>
<text transform="translate(68.74,302.40) scale(0.989,1.000)" x="-5.96" y="0" font-family="Liberation Serif" font-weight="normal" font-size="25" fill="#111" stroke="#111" stroke-width="0.9">p</text>
<text transform="translate(81.96,302.40) scale(1.150,1.000)" x="-3.47" y="0" font-family="Liberation Serif" font-weight="normal" font-size="25" fill="#111" stroke="#111" stroke-width="0.9">l</text>
<text transform="translate(95.18,302.40) scale(1.150,1.000)" x="-3.50" y="0" font-family="Liberation Serif" font-weight="normal" font-size="25" fill="#111" stroke="#111" stroke-width="0.9">i</text>
<text transform="translate(419.40,291.20) scale(0.961,1.000)" x="-6.86" y="0" font-family="Liberation Serif" font-weight="normal" font-size="25" fill="#111" stroke="#111" stroke-width="0.9">F</text>
<text transform="translate(432.50,291.20) scale(1.038,1.000)" x="-6.25" y="0" font-family="Liberation Serif" font-weight="normal" font-size="25" fill="#111" stroke="#111" stroke-width="0.9">o</text>
<text transform="translate(445.60,291.20) scale(1.150,1.000)" x="-5.64" y="0" font-family="Liberation Serif" font-weight="normal" font-size="25" fill="#111" stroke="#111" stroke-width="0.9">c</text>
<text transform="translate(458.71,291.20) scale(1.114,1.000)" x="-5.82" y="0" font-family="Liberation Serif" font-weight="normal" font-size="25" fill="#111" stroke="#111" stroke-width="0.9">a</text>
<text transform="translate(471.81,291.20) scale(1.150,1.000)" x="-3.47" y="0" font-family="Liberation Serif" font-weight="normal" font-size="25" fill="#111" stroke="#111" stroke-width="0.9">l</text>
<text transform="translate(484.91,291.20) scale(1.150,1.000)" x="-3.47" y="0" font-family="Liberation Serif" font-weight="normal" font-size="25" fill="#111" stroke="#111" stroke-width="0.9">l</text>
<text transform="translate(498.01,291.20) scale(1.150,1.000)" x="-5.60" y="0" font-family="Liberation Serif" font-weight="normal" font-size="25" fill="#111" stroke="#111" stroke-width="0.9">e</text>
<text transform="translate(511.11,291.20) scale(0.953,1.000)" x="-6.35" y="0" font-family="Liberation Serif" font-weight="normal" font-size="25" fill="#111" stroke="#111" stroke-width="0.9">n</text>
<text transform="translate(524.21,291.20) scale(1.150,1.000)" x="-4.93" y="0" font-family="Liberation Serif" font-weight="normal" font-size="25" fill="#111" stroke="#111" stroke-width="0.9">s</text>
<text transform="translate(610.40,256.70) scale(0.904,1.000)" x="-7.24" y="0" font-family="Liberation Serif" font-weight="normal" font-size="25" fill="#1a1a1a" stroke="#1a1a1a" stroke-width="0.7">L</text>
<text transform="translate(623.81,256.70) scale(1.114,1.000)" x="-5.82" y="0" font-family="Liberation Serif" font-weight="normal" font-size="25" fill="#1a1a1a" stroke="#1a1a1a" stroke-width="0.7">a</text>
<text transform="translate(637.21,256.70) scale(1.150,1.000)" x="-4.93" y="0" font-family="Liberation Serif" font-weight="normal" font-size="25" fill="#1a1a1a" stroke="#1a1a1a" stroke-width="0.7">s</text>
<text transform="translate(650.62,256.70) scale(1.150,1.000)" x="-5.60" y="0" font-family="Liberation Serif" font-weight="normal" font-size="25" fill="#1a1a1a" stroke="#1a1a1a" stroke-width="0.7">e</text>
<text transform="translate(664.03,256.70) scale(1.150,1.000)" x="-4.30" y="0" font-family="Liberation Serif" font-weight="normal" font-size="25" fill="#1a1a1a" stroke="#1a1a1a" stroke-width="0.7">r</text>
<text transform="translate(609.79,282.50) scale(1.150,1.000)" x="-4.93" y="0" font-family="Liberation Serif" font-weight="normal" font-size="25" fill="#1a1a1a" stroke="#1a1a1a" stroke-width="0.7">s</text>
<text transform="translate(622.80,282.50) scale(1.038,1.000)" x="-6.25" y="0" font-family="Liberation Serif" font-weight="normal" font-size="25" fill="#1a1a1a" stroke="#1a1a1a" stroke-width="0.7">o</text>
<text transform="translate(635.82,282.50) scale(0.937,1.000)" x="-6.20" y="0" font-family="Liberation Serif" font-weight="normal" font-size="25" fill="#1a1a1a" stroke="#1a1a1a" stroke-width="0.7">u</text>
<text transform="translate(648.84,282.50) scale(1.150,1.000)" x="-4.30" y="0" font-family="Liberation Serif" font-weight="normal" font-size="25" fill="#1a1a1a" stroke="#1a1a1a" stroke-width="0.7">r</text>
<text transform="translate(661.86,282.50) scale(1.150,1.000)" x="-5.64" y="0" font-family="Liberation Serif" font-weight="normal" font-size="25" fill="#1a1a1a" stroke="#1a1a1a" stroke-width="0.7">c</text>
<text transform="translate(674.88,282.50) scale(1.150,1.000)" x="-5.60" y="0" font-family="Liberation Serif" font-weight="normal" font-size="25" fill="#1a1a1a" stroke="#1a1a1a" stroke-width="0.7">e</text>
<text transform="translate(141.40,392.60) scale(0.969,1.000)" x="-6.81" y="0" font-family="Liberation Serif" font-weight="normal" font-size="25" fill="#111" stroke="#111" stroke-width="0.9">P</text>
<text transform="translate(154.75,392.60) scale(0.526,1.000)" x="-11.65" y="0" font-family="Liberation Serif" font-weight="bold" font-size="25" fill="#111" stroke="#111" stroke-width="0.9">M</text>
<text transform="translate(168.10,392.60) scale(0.819,1.000)" x="-7.65" y="0" font-family="Liberation Serif" font-weight="normal" font-size="25" fill="#111" stroke="#111" stroke-width="0.9">T</text>
<text transform="translate(27.86,426.50) scale(1.150,1.000)" x="-4.17" y="0" font-family="Liberation Serif" font-weight="normal" font-size="25" fill="#111" stroke="#111" stroke-width="0.6">I</text>
<text transform="translate(40.95,426.50) scale(0.953,1.000)" x="-6.35" y="0" font-family="Liberation Serif" font-weight="normal" font-size="25" fill="#111" stroke="#111" stroke-width="0.6">n</text>
<text transform="translate(54.05,426.50) scale(1.150,1.000)" x="-3.52" y="0" font-family="Liberation Serif" font-weight="normal" font-size="25" fill="#111" stroke="#111" stroke-width="0.6">t</text>
<text transform="translate(67.14,426.50) scale(1.150,1.000)" x="-5.60" y="0" font-family="Liberation Serif" font-weight="normal" font-size="25" fill="#111" stroke="#111" stroke-width="0.6">e</text>
<text transform="translate(80.23,426.50) scale(1.150,1.000)" x="-4.30" y="0" font-family="Liberation Serif" font-weight="normal" font-size="25" fill="#111" stroke="#111" stroke-width="0.6">r</text>
<text transform="translate(93.32,426.50) scale(1.150,1.000)" x="-4.55" y="0" font-family="Liberation Serif" font-weight="normal" font-size="25" fill="#111" stroke="#111" stroke-width="0.6">f</text>
<text transform="translate(106.42,426.50) scale(1.150,1.000)" x="-5.60" y="0" font-family="Liberation Serif" font-weight="normal" font-size="25" fill="#111" stroke="#111" stroke-width="0.6">e</text>
<text transform="translate(119.51,426.50) scale(1.150,1.000)" x="-4.30" y="0" font-family="Liberation Serif" font-weight="normal" font-size="25" fill="#111" stroke="#111" stroke-width="0.6">r</text>
<text transform="translate(132.60,426.50) scale(1.150,1.000)" x="-5.60" y="0" font-family="Liberation Serif" font-weight="normal" font-size="25" fill="#111" stroke="#111" stroke-width="0.6">e</text>
<text transform="translate(145.69,426.50) scale(0.953,1.000)" x="-6.35" y="0" font-family="Liberation Serif" font-weight="normal" font-size="25" fill="#111" stroke="#111" stroke-width="0.6">n</text>
<text transform="translate(158.79,426.50) scale(1.150,1.000)" x="-5.64" y="0" font-family="Liberation Serif" font-weight="normal" font-size="25" fill="#111" stroke="#111" stroke-width="0.6">c</text>
<text transform="translate(171.88,426.50) scale(1.150,1.000)" x="-5.60" y="0" font-family="Liberation Serif" font-weight="normal" font-size="25" fill="#111" stroke="#111" stroke-width="0.6">e</text>
<text transform="translate(28.44,451.30) scale(1.150,1.000)" x="-4.55" y="0" font-family="Liberation Serif" font-weight="normal" font-size="25" fill="#111" stroke="#111" stroke-width="0.6">f</text>
<text transform="translate(41.46,451.30) scale(1.150,1.000)" x="-3.50" y="0" font-family="Liberation Serif" font-weight="normal" font-size="25" fill="#111" stroke="#111" stroke-width="0.6">i</text>
<text transform="translate(54.48,451.30) scale(1.150,1.000)" x="-3.47" y="0" font-family="Liberation Serif" font-weight="normal" font-size="25" fill="#111" stroke="#111" stroke-width="0.6">l</text>
<text transform="translate(67.49,451.30) scale(1.150,1.000)" x="-3.52" y="0" font-family="Liberation Serif" font-weight="normal" font-size="25" fill="#111" stroke="#111" stroke-width="0.6">t</text>
<text transform="translate(80.51,451.30) scale(1.150,1.000)" x="-5.60" y="0" font-family="Liberation Serif" font-weight="normal" font-size="25" fill="#111" stroke="#111" stroke-width="0.6">e</text>
<text transform="translate(93.53,451.30) scale(1.150,1.000)" x="-4.30" y="0" font-family="Liberation Serif" font-weight="normal" font-size="25" fill="#111" stroke="#111" stroke-width="0.6">r</text>
<text transform="translate(111.80,91.30) scale(1.202,1.000)" x="-3.50" y="0" font-family="Liberation Sans" font-weight="bold" font-size="10" fill="#111" stroke="#111" stroke-width="0.5">P</text>
<text transform="translate(121.45,91.30) scale(1.545,1.000)" x="-3.68" y="0" font-family="Liberation Sans" font-weight="bold" font-size="10" fill="#111" stroke="#111" stroke-width="0.5">C</text>
<text transform="translate(269.75,472.00) scale(1.070,1.000)" x="-6.24" y="0" font-family="Liberation Serif" font-weight="bold" font-size="25" fill="#111" stroke="#111" stroke-width="0.2">2</text>
<text transform="translate(287.15,472.00) scale(0.869,1.000)" x="-7.84" y="0" font-family="Liberation Serif" font-weight="bold" font-style="italic" font-size="25" fill="#111" stroke="#111" stroke-width="0.6">R</text>
<text transform="translate(301.00,472.00) scale(1.255,1.000)" x="-7.06" y="0" font-family="Liberation Serif" font-weight="normal" font-size="25" fill="#111" stroke="#111" stroke-width="0.9">=</text>
<text transform="translate(315.80,472.00) scale(1.237,1.000)" x="-6.11" y="0" font-family="Liberation Serif" font-weight="normal" font-size="25" fill="#111" stroke="#111" stroke-width="0.7">2</text>
<text transform="translate(328.45,472.00) scale(0.991,1.000)" x="-6.25" y="0" font-family="Liberation Serif" font-weight="normal" font-size="25" fill="#111" stroke="#111" stroke-width="0.7">8</text>
<text transform="translate(341.50,472.00) scale(1.114,1.000)" x="-6.25" y="0" font-family="Liberation Serif" font-weight="normal" font-size="25" fill="#111" stroke="#111" stroke-width="0.7">0</text>
<text transform="translate(364.20,471.50) scale(0.649,1.060)" x="-10.53" y="0" font-family="Liberation Serif" font-weight="bold" font-size="25" fill="#111" stroke="#111" stroke-width="0.4">m</text>
<text transform="translate(377.60,471.50) scale(0.649,1.060)" x="-10.53" y="0" font-family="Liberation Serif" font-weight="bold" font-size="25" fill="#111" stroke="#111" stroke-width="0.4">m</text>
<text transform="translate(397.60,423.10) rotate(-90) scale(1.134,1.000)" x="-4.47" y="0" font-family="Liberation Serif" font-weight="bold" font-style="italic" font-size="16" fill="#111" stroke="#111" stroke-width="0">L</text>
<text transform="translate(397.60,412.65) rotate(-90) scale(1.142,1.000)" x="-4.52" y="0" font-family="Liberation Serif" font-weight="normal" font-size="16" fill="#111" stroke="#111" stroke-width="0.4">=</text>
<text transform="translate(397.60,403.50) rotate(-90) scale(1.403,1.000)" x="-3.91" y="0" font-family="Liberation Serif" font-weight="normal" font-size="16" fill="#111" stroke="#111" stroke-width="0.4">2</text>
<text transform="translate(397.60,394.00) rotate(-90) scale(1.210,1.000)" x="-4.03" y="0" font-family="Liberation Serif" font-weight="normal" font-size="16" fill="#111" stroke="#111" stroke-width="0.4">4</text>
<text transform="translate(397.60,383.75) rotate(-90) scale(1.401,1.000)" x="-4.00" y="0" font-family="Liberation Serif" font-weight="normal" font-size="16" fill="#111" stroke="#111" stroke-width="0.4">0</text>
<text transform="translate(397.60,367.50) rotate(-90) scale(0.596,1.000)" x="-7.16" y="0" font-family="Liberation Serif" font-weight="bold" font-size="17" fill="#111" stroke="#111" stroke-width="0.3">m</text>
<text transform="translate(397.60,359.30) rotate(-90) scale(0.581,1.000)" x="-7.16" y="0" font-family="Liberation Serif" font-weight="bold" font-size="17" fill="#111" stroke="#111" stroke-width="0.3">m</text>
</svg>
</body></html>
